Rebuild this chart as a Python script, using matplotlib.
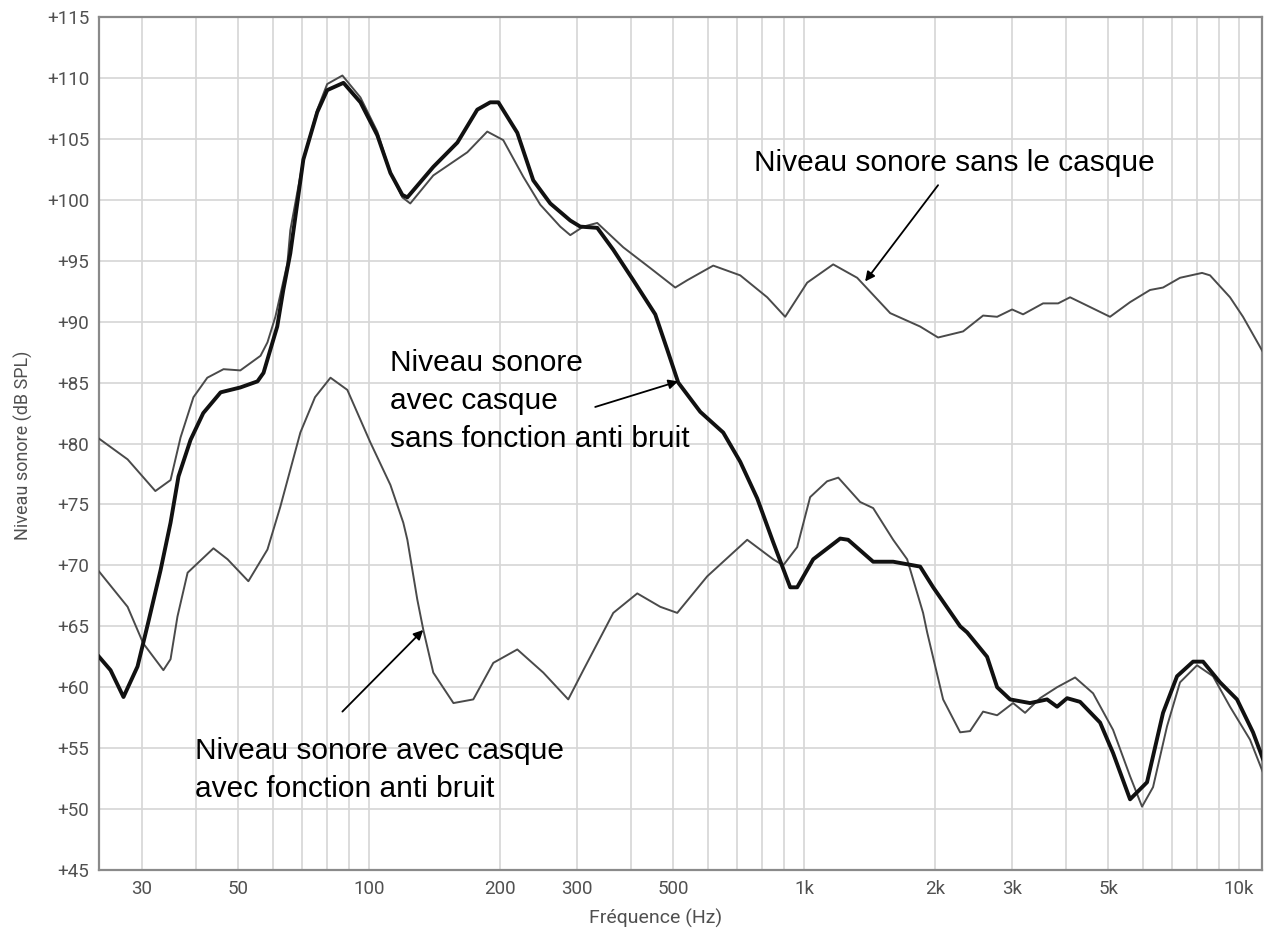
import matplotlib
matplotlib.use("Agg")
import matplotlib.pyplot as plt
from matplotlib.ticker import FixedLocator, LogLocator, NullFormatter

# --- data (frequency in Hz, level in dB SPL) ---

# Niveau sonore sans le casque
freq_sans = [23.9, 27.8, 32.2, 34.9, 36.8, 39.4, 42.4, 46.2, 50.5, 56.2, 58.3, 60.8,
             64.8, 65.8, 70.5, 75.9, 80.0, 86.7, 95.4, 104.3, 111.8, 119.1, 124.2,
             140.3, 168.0, 186.7, 203.2, 225.9, 247.2, 274.8, 289.8, 310.5, 334.3,
             383.7, 442.6, 505.2, 538.3, 617.8, 712.8, 822.2, 904.3, 1016, 1166,
             1324, 1577, 1848, 2032, 2320, 2579, 2778, 3007, 3187, 3543, 3837, 4088,
             4545, 5051, 5616, 6243, 6688, 7317, 8222, 8577, 9535, 10214, 11355]
db_sans = [80.4, 78.7, 76.1, 77.0, 80.5, 83.8, 85.4, 86.1, 86.0, 87.2, 88.3, 90.4,
           94.8, 97.5, 103.3, 107.4, 109.5, 110.2, 108.4, 105.6, 102.2, 100.2, 99.7,
           102.0, 103.9, 105.6, 104.9, 101.9, 99.6, 97.8, 97.1, 97.8, 98.1,
           96.1, 94.4, 92.8, 93.4, 94.6, 93.8, 92.0, 90.4, 93.2, 94.7,
           93.6, 90.7, 89.6, 88.7, 89.2, 90.5, 90.4, 91.0, 90.6, 91.5, 91.5, 92.0,
           91.2, 90.4, 91.6, 92.6, 92.8, 93.6, 94.0, 93.8, 92.0, 90.4, 87.5]

# Niveau sonore avec casque, sans fonction anti bruit (thick)
freq_passif = [23.9, 25.4, 27.2, 29.3, 31.0, 33.1, 34.9, 36.4, 38.8, 41.5, 45.5, 50.5,
               55.3, 57.1, 59.2, 61.4, 63.4, 65.8, 70.5, 75.9, 80.0, 87.2, 95.4, 104.3,
               111.8, 119.1, 122.3, 140.3, 159.4, 177.1, 189.7, 198.0, 218.9, 238.2,
               260.7, 289.8, 305.5, 334.3, 363.9, 404.6, 454.5, 484.3, 513.3, 576.8,
               651.4, 712.8, 779.8, 848.7, 928.6, 963.6, 1049, 1210, 1262, 1441, 1602,
               1848, 1980, 2284, 2370, 2634, 2778, 2976, 3307, 3619, 3816, 4024, 4310,
               4792, 5133, 5616, 6144, 6688, 7202, 7841, 8266, 9044, 9895, 10770, 11355]
db_passif = [62.5, 61.4, 59.2, 61.7, 65.3, 69.6, 73.5, 77.3, 80.3, 82.5, 84.2, 84.6,
             85.1, 85.8, 87.7, 89.6, 92.6, 95.6, 103.3, 107.2, 109.0, 109.6, 108.0, 105.3,
             102.2, 100.4, 100.2, 102.7, 104.7, 107.4, 108.0, 108.0, 105.5, 101.6,
             99.7, 98.3, 97.8, 97.7, 95.9, 93.4, 90.6, 87.7, 85.0, 82.6,
             80.9, 78.5, 75.5, 71.9, 68.2, 68.2, 70.5, 72.2, 72.1, 70.3, 70.3,
             69.9, 68.2, 65.0, 64.5, 62.5, 60.0, 59.0, 58.7, 59.0, 58.4, 59.1, 58.8,
             57.1, 54.6, 50.8, 52.2, 57.9, 60.9, 62.1, 62.1, 60.4, 59.0, 56.3, 54.1]

# Niveau sonore avec casque, avec fonction anti bruit
freq_anc = [23.9, 27.8, 30.2, 33.6, 34.9, 36.2, 38.2, 43.8, 47.2, 52.7, 58.3, 62.4,
            69.4, 75.0, 81.4, 89.0, 100.5, 111.8, 119.7, 122.3, 128.9, 133.1, 140.3, 156.1,
            173.4, 192.8, 218.9, 251.2, 286.7, 310.5, 363.9, 413.2, 466.7, 510.6,
            598.4, 739.6, 848.7, 894.8, 963.6, 1032, 1129, 1198, 1345, 1441, 1602,
            1725, 1877, 1918, 2087, 2284, 2407, 2579, 2778, 3023, 3221, 3487, 3816,
            4198, 4618, 5133, 5616, 5984, 6343, 6831, 7317, 8008, 8715, 9535, 10600, 11355]
db_anc = [69.5, 66.6, 63.6, 61.4, 62.3, 65.8, 69.4, 71.4, 70.5, 68.7, 71.3, 74.8,
          80.9, 83.8, 85.4, 84.4, 80.1, 76.6, 73.5, 72.1, 67.2, 64.7, 61.2, 58.7,
          59.0, 62.0, 63.1, 61.2, 59.0, 61.4, 66.1, 67.7, 66.6, 66.1,
          69.1, 72.1, 70.5, 70.0, 71.5, 75.6, 76.9, 77.2, 75.2, 74.7, 72.1,
          70.5, 66.1, 64.5, 59.0, 56.3, 56.4, 58.0, 57.7, 58.7, 57.9, 59.1, 60.0,
          60.8, 59.5, 56.5, 52.7, 50.2, 51.8, 56.8, 60.4, 61.8, 60.9, 58.4, 55.7, 53.0]

x_ticks = [30, 50, 100, 200, 300, 500, 1000, 2000, 3000, 5000, 10000]
x_labels = ["30", "50", "100", "200", "300", "500", "1k", "2k", "3k", "5k", "10k"]
y_ticks = list(range(45, 120, 5))
y_labels = ["+%d" % v for v in y_ticks]

# --- figure ---
fig = plt.figure(figsize=(12.65, 9.3), dpi=100)
ax = fig.add_axes([0.0783, 0.0645, 0.9194, 0.9172])

thin = "#4a4a4a"
ax.plot(freq_anc, db_anc, color=thin, lw=1.4, zorder=3)
ax.plot(freq_sans, db_sans, color=thin, lw=1.4, zorder=3)
ax.plot(freq_passif, db_passif, color="#111111", lw=2.8, zorder=4)

ax.set_xscale("log")
ax.set_xlim(23.9, 11300)
ax.set_ylim(45, 115)

ax.xaxis.set_major_locator(FixedLocator(x_ticks))
ax.set_xticklabels(x_labels)
ax.xaxis.set_minor_locator(LogLocator(base=10, subs=range(1, 10), numticks=20))
ax.xaxis.set_minor_formatter(NullFormatter())
ax.set_yticks(y_ticks)
ax.set_yticklabels(y_labels)

ax.grid(True, which="both", color="#d6d6d6", lw=1.2, zorder=0)
ax.tick_params(which="both", length=0, colors="#505050", labelsize=13.5, pad=7)
for lab in ax.get_xticklabels() + ax.get_yticklabels():
    lab.set_family("Roboto")
for sp in ax.spines.values():
    sp.set_color("#8a8a8a")
    sp.set_linewidth(1.6)

fig.text(656 / 1265, 1 - 918 / 930, "Fréquence (Hz)", ha="center", va="center",
         fontsize=14, color="#505050", family="Roboto")
fig.text(23 / 1265, 1 - 445 / 930, "Niveau sonore (dB SPL)", ha="center", va="center",
         rotation=90, fontsize=13, color="#505050", family="Roboto")

# --- annotations ---
note = dict(fontsize=21.5, family="Liberation Sans", color="black", ha="left",
            va="center", linespacing=1.45)
arrow = dict(arrowstyle="-|>", color="black", lw=1.3, mutation_scale=14, shrinkA=0, shrinkB=0)

ax.text(767, 103.0, "Niveau sonore sans le casque", **note)
ax.annotate("", xy=(1381, 93.3), xytext=(2032, 101.2), arrowprops=arrow, zorder=5)

ax.text(111.8, 83.5, "Niveau sonore\navec casque\nsans fonction anti bruit", **note)
ax.annotate("", xy=(513, 85.1), xytext=(330.7, 83.0), arrowprops=arrow, zorder=5)

ax.text(39.8, 53.2, "Niveau sonore avec casque\navec fonction anti bruit", **note)
ax.annotate("", xy=(133, 64.7), xytext=(86.7, 58.0), arrowprops=arrow, zorder=5)

fig.savefig("out.png", dpi=100, facecolor="white")
